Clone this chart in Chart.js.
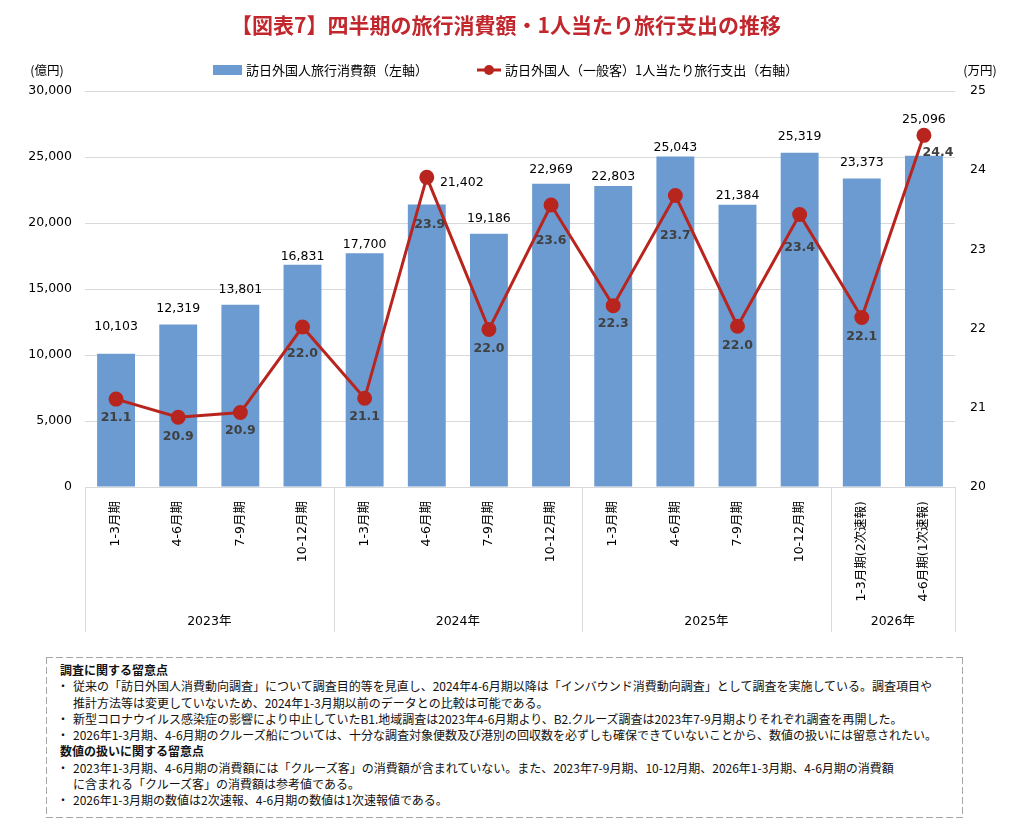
<!DOCTYPE html>
<html lang="ja">
<head>
<meta charset="UTF-8">
<title>四半期の旅行消費額・1人当たり旅行支出の推移</title>
<script src="https://cdn.jsdelivr.net/npm/chart.js"></script>
<style>
  body { margin: 0; background: #fff; font-family: "Noto Sans CJK JP", sans-serif; }
  #wrap { position: relative; width: 1012px; height: 828px; }
  #chartBox { position: absolute; left: 0; top: 0; width: 1012px; height: 645px; }
  .notes {
    position: absolute; left: 46px; top: 657px; width: 917px; height: 161px;
    box-sizing: border-box;
    padding-top: 5px; font-size: 12px; line-height: 16.3px; color: #111;
    /* long dashes like the original frame */
    background:
      repeating-linear-gradient(90deg, #a6a6a6 0 7px, transparent 7px 10px) top / 100% 1px no-repeat,
      repeating-linear-gradient(90deg, #a6a6a6 0 7px, transparent 7px 10px) bottom / 100% 1px no-repeat,
      repeating-linear-gradient(180deg, #a6a6a6 0 7px, transparent 7px 10px) left / 1px 100% no-repeat,
      repeating-linear-gradient(180deg, #a6a6a6 0 7px, transparent 7px 10px) right / 1px 100% no-repeat;
  }
  .notes div { white-space: nowrap; position: relative; }
  .notes .h { padding-left: 14px; font-weight: bold; }
  .notes .b { padding-left: 27px; }
  .notes .b::before { content: "・"; position: absolute; left: 11px; }
  .notes .c { padding-left: 27px; }
</style>
</head>
<body>
<div id="wrap">
  <div id="chartBox"><canvas id="chart"></canvas></div>
  <div class="notes">
    <div class="h">調査に関する留意点</div>
    <div class="b">従来の「訪日外国人消費動向調査」について調査目的等を見直し、2024年4-6月期以降は「インバウンド消費動向調査」として調査を実施している。調査項目や</div>
    <div class="c">推計方法等は変更していないため、2024年1-3月期以前のデータとの比較は可能である。</div>
    <div class="b">新型コロナウイルス感染症の影響により中止していたB1.地域調査は2023年4-6月期より、B2.クルーズ調査は2023年7-9月期よりそれぞれ調査を再開した。</div>
    <div class="b">2026年1-3月期、4-6月期のクルーズ船については、十分な調査対象便数及び港別の回収数を必ずしも確保できていないことから、数値の扱いには留意されたい。</div>
    <div class="h">数値の扱いに関する留意点</div>
    <div class="b">2023年1-3月期、4-6月期の消費額には「クルーズ客」の消費額が含まれていない。また、2023年7-9月期、10-12月期、2026年1-3月期、4-6月期の消費額</div>
    <div class="c">に含まれる「クルーズ客」の消費額は参考値である。</div>
    <div class="b">2026年1-3月期の数値は2次速報、4-6月期の数値は1次速報値である。</div>
  </div>
</div>
<script>
const quarters = ['1-3月期', '4-6月期', '7-9月期', '10-12月期',
                  '1-3月期', '4-6月期', '7-9月期', '10-12月期',
                  '1-3月期', '4-6月期', '7-9月期', '10-12月期',
                  '1-3月期(2次速報)', '4-6月期(1次速報)'];
const years = ['2023年', '2024年', '2025年', '2026年'];
const yearSpans = [4, 4, 4, 2];
// 訪日外国人旅行消費額 (億円)
const spending = [10103, 12319, 13801, 16831, 17700, 21402, 19186, 22969, 22803, 25043, 21384, 25319, 23373, 25096];
// 1人当たり旅行支出 (万円)
const perPerson = [21.11, 20.88, 20.94, 22.02, 21.12, 23.91, 21.99, 23.56, 22.29, 23.68, 22.03, 23.44, 22.14, 24.44];

// label nudges (px), like the hand-placed labels in the original
const barLabelDy = [-27, -16, -15, -8, -9, -22, -15, -14, -9, -9, -9, -16, -16, -36];
const barLabelDx = [0, 0, 0, 0, 0, 35, 0, 0, 0, 0, 0, 0, 0, 0];
const lineLabelDy = [19, 19, 18, 27, 18, 47, 19, 36, 18, 40, 20, 33, 19, 17];
const lineLabelDx = [0, 0, 0, 0, 0, 3, 0, 0, 0, 0, 0, 0, 0, 14];

const BAR_COLOR = '#6b9bd1';
const LINE_COLOR = '#b8251f';
const GRID = '#d9d9d9';
const FONT = '"DejaVu Sans", "Noto Sans CJK JP", sans-serif';
const JP = '"Noto Sans CJK JP", sans-serif';

const fmt = v => v.toLocaleString('en-US');

const decorPlugin = {
  id: 'decor',
  afterDraw(chart) {
    const ctx = chart.ctx;
    const x = chart.scales.x;
    const area = chart.chartArea;
    ctx.save();

    // title
    ctx.fillStyle = '#c1272d';
    ctx.font = 'bold 21px ' + JP;
    ctx.textAlign = 'center';
    ctx.textBaseline = 'middle';
    ctx.fillText('【図表7】四半期の旅行消費額・1人当たり旅行支出の推移', 506, 25);

    // unit labels
    ctx.fillStyle = '#000';
    ctx.font = '12.5px ' + JP;
    ctx.fillText('(億円)', 47, 70);
    ctx.fillText('(万円)', 980, 70);

    // legend
    ctx.fillStyle = BAR_COLOR;
    ctx.fillRect(213, 65, 29, 10);
    ctx.fillStyle = '#000';
    ctx.textAlign = 'left';
    ctx.font = '13px ' + JP;
    ctx.fillText('訪日外国人旅行消費額（左軸）', 246, 70);
    ctx.strokeStyle = LINE_COLOR;
    ctx.lineWidth = 3;
    ctx.beginPath();
    ctx.moveTo(477, 70);
    ctx.lineTo(501, 70);
    ctx.stroke();
    ctx.fillStyle = LINE_COLOR;
    ctx.beginPath();
    ctx.arc(489, 70, 5, 0, Math.PI * 2);
    ctx.fill();
    ctx.fillStyle = '#000';
    ctx.fillText('訪日外国人（一般客）1人当たり旅行支出（右軸）', 505, 70);

    // year groups under the axis
    const half = (x.getPixelForValue(1) - x.getPixelForValue(0)) / 2;
    ctx.strokeStyle = GRID;
    ctx.lineWidth = 1;
    ctx.font = '12.5px ' + FONT;
    ctx.textAlign = 'center';
    let start = 0;
    const edges = [x.getPixelForValue(0) - half];
    yearSpans.forEach((n, i) => {
      const left = x.getPixelForValue(start) - half;
      const right = x.getPixelForValue(start + n - 1) + half;
      edges.push(right);
      ctx.fillStyle = '#000';
      ctx.fillText(years[i], (left + right) / 2, 622);
      start += n;
    });
    edges.forEach(px => {
      const p = Math.round(px) + 0.5;
      ctx.beginPath();
      ctx.moveTo(p, area.bottom);
      ctx.lineTo(p, 632);
      ctx.stroke();
    });
    ctx.restore();
  }
};

const labelPlugin = {
  id: 'valueLabels',
  afterDatasetsDraw(chart) {
    const ctx = chart.ctx;
    ctx.save();
    ctx.textAlign = 'center';
    ctx.textBaseline = 'middle';

    const bars = chart.getDatasetMeta(0).data;
    ctx.font = '12.5px ' + FONT;
    ctx.fillStyle = '#000';
    bars.forEach((bar, i) => {
      ctx.fillText(fmt(spending[i]), bar.x + barLabelDx[i], bar.y + barLabelDy[i]);
    });

    const pts = chart.getDatasetMeta(1).data;
    ctx.font = 'bold 12.5px ' + FONT;
    ctx.fillStyle = '#404040';
    pts.forEach((pt, i) => {
      ctx.fillText(perPerson[i].toFixed(1), pt.x + lineLabelDx[i], pt.y + lineLabelDy[i]);
    });
    ctx.restore();
  }
};

new Chart(document.getElementById('chart'), {
  data: {
    labels: quarters,
    datasets: [
      {
        type: 'bar',
        label: '訪日外国人旅行消費額（左軸）',
        data: spending,
        backgroundColor: BAR_COLOR,
        yAxisID: 'y',
        categoryPercentage: 1,
        barPercentage: 0.61,
        order: 2
      },
      {
        type: 'line',
        label: '訪日外国人（一般客）1人当たり旅行支出（右軸）',
        data: perPerson,
        borderColor: LINE_COLOR,
        backgroundColor: LINE_COLOR,
        borderWidth: 3,
        pointRadius: 6,
        pointHoverRadius: 6,
        tension: 0,
        yAxisID: 'y1',
        order: 1
      }
    ]
  },
  options: {
    responsive: true,
    maintainAspectRatio: false,
    animation: false,
    layout: { padding: { top: 91, left: 0, right: 0, bottom: 0 } },
    plugins: {
      legend: { display: false },
      title: { display: false },
      tooltip: { enabled: false }
    },
    scales: {
      x: {
        grid: { display: false },
        border: { display: false },
        ticks: {
          autoSkip: false,
          maxRotation: 90,
          minRotation: 90,
          padding: 6,
          color: '#000',
          font: { family: FONT, size: 12.5 }
        },
        afterFit: s => { s.height = 158; }
      },
      y: {
        position: 'left',
        min: 0,
        max: 30000,
        ticks: {
          stepSize: 5000,
          padding: 13,
          color: '#000',
          font: { family: FONT, size: 12.5 },
          callback: v => fmt(v)
        },
        grid: { color: GRID, drawTicks: false },
        border: { display: false },
        afterFit: s => { s.width = 85; }
      },
      y1: {
        position: 'right',
        min: 20,
        max: 25,
        ticks: {
          stepSize: 1,
          padding: 15,
          color: '#000',
          font: { family: FONT, size: 12.5 }
        },
        grid: { display: false, drawTicks: false },
        border: { display: false },
        afterFit: s => { s.width = 57; }
      }
    }
  },
  plugins: [decorPlugin, labelPlugin]
});
</script>
</body>
</html>
